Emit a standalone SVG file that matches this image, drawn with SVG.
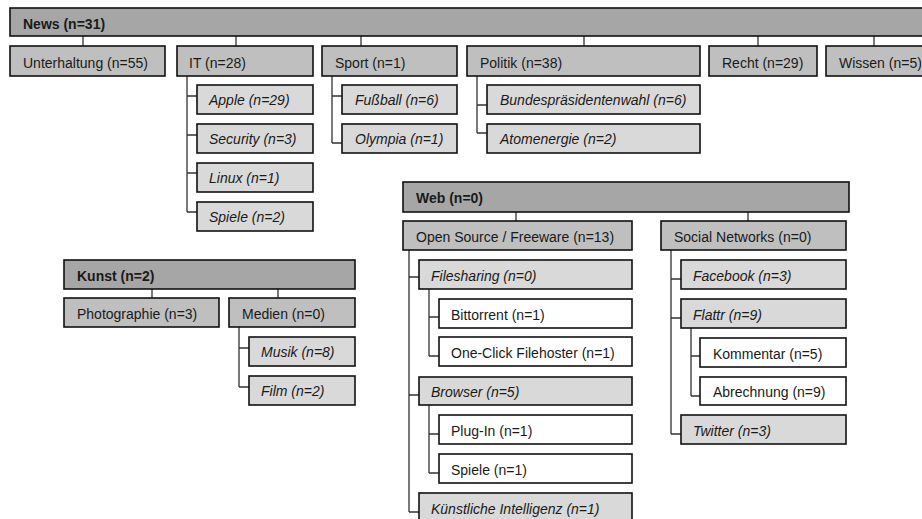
<svg xmlns="http://www.w3.org/2000/svg" width="922" height="519" viewBox="0 0 922 519">
<style>
rect{stroke:#111;stroke-width:1.6}
.h{fill:#a6a6a6}
.l2{fill:#bfbfbf}
.l3{fill:#d9d9d9}
.l4{fill:#ffffff}
text{font-family:"Liberation Sans",Arial,sans-serif;font-size:14px;fill:#1a1a1a}
.b{font-weight:bold}
.i{font-style:italic}
#connectors path{fill:none;stroke:#333;stroke-width:1.3}
</style>
<rect x="0" y="0" width="922" height="519" style="fill:#fff;stroke:none"/>
<g id="connectors">
<path d="M83 36V46M236 36V46M361 36V46M584 36V46M758 36V46M874 36V46"/>
<path d="M187 76V212M187 96H197M187 135H197M187 173H197M187 212H197"/>
<path d="M332 76V143M332 96H342M332 143H342"/>
<path d="M477 76V133M477 105H487M477 133H487"/>
<path d="M152 289V298M278 289V298"/>
<path d="M239 327V387M239 348H249M239 387H249"/>
<path d="M516 212V221M748 212V221"/>
<path d="M409 250V512M409 277H419M409 395H419M409 512H419"/>
<path d="M429 289V356M429 317H439M429 356H439"/>
<path d="M429 405V473M429 434H439M429 473H439"/>
<path d="M671 250V434M671 279H681M671 318H681M671 434H681"/>
<path d="M691 328V396M691 356H700M691 396H700"/>
</g>
<g id="news"><rect class="h" x="10" y="8" width="920" height="28"/><text class="b" x="23" y="29">News (n=31)</text></g>
<g id="unterhaltung"><rect class="l2" x="10" y="46" width="155" height="30"/><text x="23" y="68">Unterhaltung (n=55)</text></g>
<g id="it"><rect class="l2" x="177" y="46" width="136" height="30"/><text x="189" y="68">IT (n=28)</text></g>
<g id="sport"><rect class="l2" x="322" y="46" width="135" height="30"/><text x="335" y="68">Sport (n=1)</text></g>
<g id="politik"><rect class="l2" x="467" y="46" width="233" height="30"/><text x="480" y="68">Politik (n=38)</text></g>
<g id="recht"><rect class="l2" x="709" y="46" width="108" height="30"/><text x="722" y="68">Recht (n=29)</text></g>
<g id="wissen"><rect class="l2" x="826" y="46" width="110" height="30"/><text x="839" y="68">Wissen (n=5)</text></g>
<g id="apple"><rect class="l3" x="197" y="85" width="116" height="29"/><text class="i" x="209" y="105">Apple (n=29)</text></g>
<g id="security"><rect class="l3" x="197" y="124" width="116" height="29"/><text class="i" x="209" y="144">Security (n=3)</text></g>
<g id="linux"><rect class="l3" x="197" y="163" width="116" height="29"/><text class="i" x="209" y="183">Linux (n=1)</text></g>
<g id="spiele-it"><rect class="l3" x="197" y="202" width="116" height="29"/><text class="i" x="209" y="222">Spiele (n=2)</text></g>
<g id="fussball"><rect class="l3" x="342" y="85" width="115" height="29"/><text class="i" x="355" y="105">Fußball (n=6)</text></g>
<g id="olympia"><rect class="l3" x="342" y="124" width="115" height="29"/><text class="i" x="355" y="144">Olympia (n=1)</text></g>
<g id="bundes"><rect class="l3" x="487" y="85" width="213" height="29"/><text class="i" x="500" y="105">Bundespräsidentenwahl (n=6)</text></g>
<g id="atom"><rect class="l3" x="487" y="124" width="213" height="29"/><text class="i" x="500" y="144">Atomenergie (n=2)</text></g>
<g id="kunst"><rect class="h" x="64" y="260" width="291" height="29"/><text class="b" x="77" y="281">Kunst (n=2)</text></g>
<g id="photographie"><rect class="l2" x="64" y="298" width="155" height="29"/><text x="77" y="319">Photographie (n=3)</text></g>
<g id="medien"><rect class="l2" x="229" y="298" width="126" height="29"/><text x="242" y="319">Medien (n=0)</text></g>
<g id="musik"><rect class="l3" x="249" y="337" width="106" height="29"/><text class="i" x="261" y="357">Musik (n=8)</text></g>
<g id="film"><rect class="l3" x="249" y="376" width="106" height="29"/><text class="i" x="261" y="396">Film (n=2)</text></g>
<g id="web"><rect class="h" x="403" y="182" width="446" height="30"/><text class="b" x="416" y="203">Web (n=0)</text></g>
<g id="opensource"><rect class="l2" x="403" y="221" width="229" height="29"/><text x="416" y="242">Open Source / Freeware (n=13)</text></g>
<g id="social"><rect class="l2" x="661" y="221" width="185" height="29"/><text x="674" y="242">Social Networks (n=0)</text></g>
<g id="filesharing"><rect class="l3" x="419" y="260" width="213" height="29"/><text class="i" x="431" y="281">Filesharing (n=0)</text></g>
<g id="bittorrent"><rect class="l4" x="439" y="299" width="193" height="29"/><text x="451" y="320">Bittorrent (n=1)</text></g>
<g id="oneclick"><rect class="l4" x="439" y="337" width="193" height="29"/><text x="451" y="358">One-Click Filehoster (n=1)</text></g>
<g id="browser"><rect class="l3" x="419" y="377" width="213" height="28"/><text class="i" x="431" y="397">Browser (n=5)</text></g>
<g id="plugin"><rect class="l4" x="439" y="415" width="193" height="29"/><text x="451" y="436">Plug-In (n=1)</text></g>
<g id="spiele-web"><rect class="l4" x="439" y="454" width="193" height="29"/><text x="451" y="475">Spiele (n=1)</text></g>
<g id="ki"><rect class="l3" x="419" y="493" width="213" height="29"/><text class="i" x="431" y="514">Künstliche Intelligenz (n=1)</text></g>
<g id="facebook"><rect class="l3" x="681" y="260" width="165" height="29"/><text class="i" x="693" y="281">Facebook (n=3)</text></g>
<g id="flattr"><rect class="l3" x="681" y="299" width="165" height="29"/><text class="i" x="693" y="320">Flattr (n=9)</text></g>
<g id="kommentar"><rect class="l4" x="700" y="338" width="146" height="29"/><text x="713" y="359">Kommentar (n=5)</text></g>
<g id="abrechnung"><rect class="l4" x="700" y="377" width="146" height="28"/><text x="713" y="397">Abrechnung (n=9)</text></g>
<g id="twitter"><rect class="l3" x="681" y="415" width="165" height="29"/><text class="i" x="693" y="436">Twitter (n=3)</text></g>
</svg>
